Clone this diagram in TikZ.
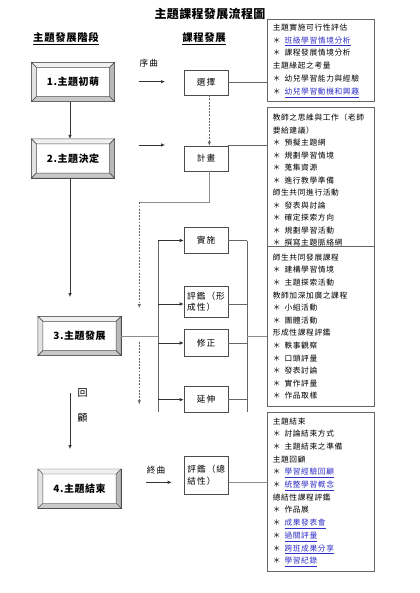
\documentclass[tikz,border=0pt]{standalone}
\usepackage{fontspec}
\setmainfont{Noto Sans CJK TC}
\usepackage{xcolor}
\usepackage{tikz}
\usetikzlibrary{arrows.meta}

\definecolor{linkblue}{HTML}{3030C8}
\newcommand\itm[1]{＊\hspace{3pt}#1}
\newcommand\itmb[1]{＊\hspace{3pt}\textcolor{linkblue}{\underline{#1}}}
% bevelled frame round a stage node
\newcommand\bevel[1]{%
\filldraw[gray!12, draw=black!70, line width=0.3pt] (#1.north west) -- (#1.north east) -- ([shift={(-3.75pt,-3.75pt)}]#1.north east) -- ([shift={(3.75pt,-3.75pt)}]#1.north west) -- cycle;
\filldraw[gray!22, draw=black!70, line width=0.3pt] (#1.north west) -- ([shift={(3.75pt,-3.75pt)}]#1.north west) -- ([shift={(3.75pt,3.75pt)}]#1.south west) -- (#1.south west) -- cycle;
\filldraw[gray!55, draw=black!70, line width=0.3pt] (#1.north east) -- (#1.south east) -- ([shift={(-3.75pt,3.75pt)}]#1.south east) -- ([shift={(-3.75pt,-3.75pt)}]#1.north east) -- cycle;
\filldraw[gray!42, draw=black!70, line width=0.3pt] (#1.south west) -- (#1.south east) -- ([shift={(-3.75pt,3.75pt)}]#1.south east) -- ([shift={(3.75pt,3.75pt)}]#1.south west) -- cycle;
}

\tikzset{
  stagebox/.style={draw=black!75, fill=white, minimum width=62pt, minimum height=29pt, inner sep=0pt, font=\fontsize{7.5}{9}\selectfont\bfseries\addfontfeatures{LetterSpace=5}},
  stepbox/.style={draw=black!70, fill=white, minimum width=33pt, minimum height=19pt, inner sep=1.5pt, font=\fontsize{6.5}{8.6}\selectfont\addfontfeatures{LetterSpace=12}},
  infobox/.style={draw=black!60, fill=white, minimum width=80.25pt, anchor=north west, inner sep=0pt},
  infotext/.style={anchor=base west, inner sep=0pt, font=\fontsize{5.8}{7}\selectfont\addfontfeatures{LetterSpace=8}},
  label/.style={inner sep=0pt, font=\fontsize{6.5}{8}\selectfont\addfontfeatures{LetterSpace=12}},
  link/.style={draw=black!60, line width=0.5pt},
  flow/.style={draw=black!80, line width=0.5pt, -{Latex[length=3pt,width=2.6pt]}},
  dotflow/.style={flow, draw=black!60, dash pattern=on 1.4pt off 1pt}
}

\begin{document}
\begin{tikzpicture}[x=0.75pt, y=-0.75pt]
\useasboundingbox (0,0) rectangle (420,593);
\fill[white] (0,0) rectangle (420,593);

% headings
\node[inner sep=0pt, font=\fontsize{9}{11}\selectfont\bfseries\addfontfeatures{LetterSpace=3}] (title) at (210,14) {主題課程發展流程圖};
\node[inner sep=0pt, font=\fontsize{7.8}{9}\selectfont\bfseries\addfontfeatures{LetterSpace=6}] (headL) at (66,39) {\underline{主題發展階段}};
\node[inner sep=0pt, font=\fontsize{7.8}{9}\selectfont\bfseries\addfontfeatures{LetterSpace=6}] (headM) at (204,39) {\underline{課程發展}};

% stages
\node[stagebox] (b1) at (73,82) {1.主題初萌};
\bevel{b1}
\node[stagebox] (b2) at (73,158.5) {2.主題決定};
\bevel{b2}
\node[stagebox] (b3) at (79.5,336) {3.主題發展};
\bevel{b3}
\node[stagebox] (b4) at (79.5,488.6) {4.主題結束};
\bevel{b4}

\draw[flow] ([xshift=-2.25pt]b1.south) -- ([xshift=-2.25pt]b2.north);
\coordinate (b2end) at (70,297);
\draw[flow] ([xshift=-2.25pt]b2.south) -- (b2end);
\coordinate (backA) at (70,393);
\coordinate (backB) at (70,449);
\draw[flow] (backA) -- (backB);
\node[inner sep=0pt, font=\fontsize{7.5}{9}\selectfont] (back1) at (82.7,393) {回};
\node[inner sep=0pt, font=\fontsize{7.5}{9}\selectfont] (back2) at (82.7,418) {顧};

% prelude / finale arrows
\node[label] (pre) at (148.8,63.3) {序曲};
\coordinate (preA) at (139.3,81.7);
\coordinate (preB) at (165,81.7);
\draw[flow] (preA) -- (preB);
\coordinate (decA) at (139.3,145);
\coordinate (decB) at (165,145);
\draw[flow] (decA) -- (decB);
\node[label] (fin) at (156,470) {終曲};
\coordinate (finA) at (146,482.3);
\coordinate (finB) at (171.7,482.3);
\draw[flow] (finA) -- (finB);

% curriculum steps
\node[stepbox, minimum height=18.75pt] (s1) at (206,82.5) {選擇};
\node[stepbox, minimum height=18.75pt] (s2) at (206,158.5) {計畫};
\node[stepbox, minimum height=19.2pt] (s3) at (206,240.5) {實施};
\node[stepbox, minimum height=23.25pt, align=left] (s4) at (206,301.5) {評鑑（形\\成性）};
\node[stepbox, minimum height=20pt] (s5) at (206,343) {修正};
\node[stepbox, minimum height=19.5pt] (s6) at (206,399.7) {延伸};
\node[stepbox, minimum height=28.5pt, align=left, anchor=north west] (s7) at (184,456) {評鑑（總\\結性）};

\draw[dotflow] ([xshift=2.5pt]s1.south) -- ([xshift=2.5pt]s2.north);
\coordinate (planC) at (139.3,202.3);
\coordinate (planD) at (139.3,308);
\coordinate (planE) at (139.3,341.7);
\coordinate (planF) at (139.3,404.3);
\draw[link, draw=black!45] ([xshift=2.5pt]s2.south) |- (planC);
\draw[dotflow] (planC) -- (planD);
\draw[dotflow] (planE) -- (planF);

% buses
\coordinate (lbusT) at (158,240.7);
\coordinate (lbusB) at (158,412);
\coordinate (rbusT) at (247.3,240.7);
\coordinate (rbusB) at (247.3,412);
\draw[link] (lbusT) -- (lbusB);
\draw[link] (rbusT) -- (rbusB);
\draw[flow] (lbusT |- s3.west) -- (s3.west);
\draw[flow] (158,304) -- (s4.west |- 0,304);
\draw[flow] (lbusT |- s5.west) -- (s5.west);
\draw[flow] (lbusT |- s6.west) -- (s6.west);
\draw[link] (s3.east) -- (rbusT |- s3.east);
\draw[link] (s4.east |- 0,304) -- (247.3,304);
\draw[link] (s5.east) -- (rbusT |- s5.east);
\draw[link] (s6.east) -- (rbusT |- s6.east);
\draw[link, draw=black!45] (b3.east) -- (lbusT |- b3.east);

% detail boxes
\node[infobox, minimum height=61.5pt] (r1) at (267,19) {};
\foreach \entry [count=\i from 0] in {主題實施可行性評估, \itmb{班級學習情境分析}, \itm{課程發展情境分析}, 主題緣起之考量, \itm{幼兒學習能力與經驗}, \itmb{幼兒學習動機和興趣}}
  \node[infotext] (r1t\i) at (272.5,30.3+12.8*\i) {\entry};

\node[infobox, minimum height=107pt] (r2) at (267,107) {};
\foreach \entry [count=\i from 0] in {教師之思維與工作（老師, 要給建議）, \itm{預擬主題網}, \itm{規劃學習情境}, \itm{蒐集資源}, \itm{進行教學準備}, 師生共同進行活動, \itm{發表與討論}, \itm{確定探索方向}, \itm{規劃學習活動}, \itm{撰寫主題脈絡網}}
  \node[infotext] (r2t\i) at (272.5,120.7+12.5*\i) {\entry};

\node[infobox, minimum height=119.8pt] (r3) at (267,246) {};
\foreach \entry [count=\i from 0] in {師生共同發展課程, \itm{建構學習情境}, \itm{主題探索活動}, 教師加深加廣之課程, \itm{小組活動}, \itm{團體活動}, 形成性課程評鑑, \itm{軼事觀察}, \itm{口頭評量}, \itm{發表討論}, \itm{實作評量}, \itm{作品取樣}}
  \node[infotext] (r3t\i) at (272.5,260.3+12.6*\i) {\entry};

\node[infobox, minimum height=118.8pt] (r4) at (267,412.3) {};
\foreach \entry [count=\i from 0] in {主題結束, \itm{討論結束方式}, \itm{主題結束之準備}, 主題回顧, \itmb{學習經驗回顧}, \itmb{統整學習概念}, 總結性課程評鑑, \itm{作品展}, \itmb{成果發表會}, \itmb{過關評量}, \itmb{跨班成果分享}, \itmb{學習紀錄}}
  \node[infotext] (r4t\i) at (272.5,424+12.7*\i) {\entry};

% links to detail boxes
\draw[link] (s1.east) -- (s1.east -| r1.west);
\draw[link] (s2.north east) -- (s2.north east -| r2.west);
\draw[link, draw=black!45] (rbusT |- b3.east) -- (r3.west |- b3.east);
\draw[link, draw=black!45] ([yshift=-5pt]s7.east) -- ([yshift=-5pt]s7.east -| r4.west);
\end{tikzpicture}
\end{document}
